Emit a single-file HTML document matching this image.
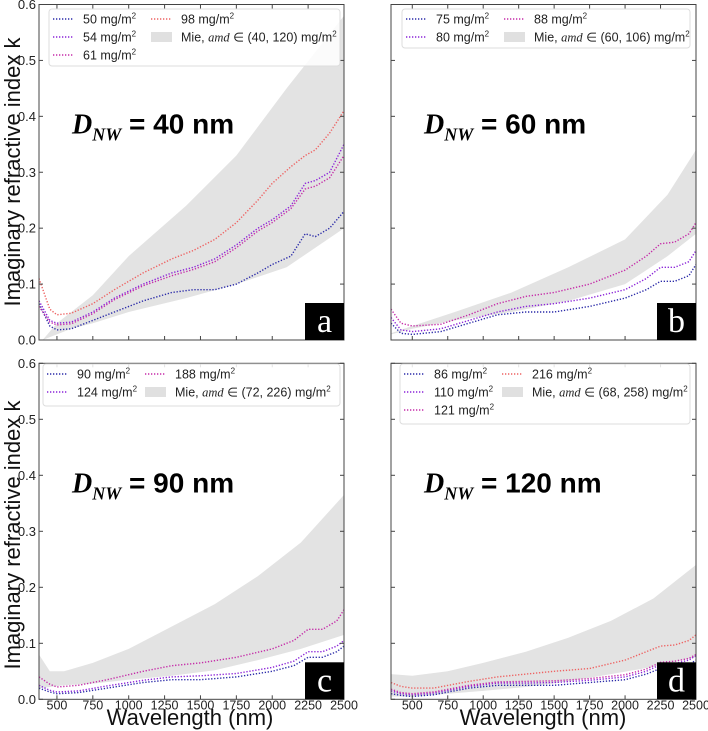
<!DOCTYPE html>
<html><head><meta charset="utf-8">
<style>
body{margin:0;background:#fff;}
svg{display:block;font-family:"Liberation Sans",sans-serif;}
</style></head>
<body>
<svg id="chart" width="708" height="731" viewBox="0 0 708 731" xmlns="http://www.w3.org/2000/svg"></svg>
<script>
// ---------- data ----------
const wlA = [375,450,500,600,750,900,1100,1300,1450,1600,1750,1900,2000,2130,2230,2300,2400,2500];
const a50 = [0.065,0.025,0.018,0.02,0.035,0.05,0.07,0.085,0.09,0.09,0.1,0.12,0.135,0.15,0.19,0.185,0.2,0.23];
const a54 = [0.07,0.035,0.03,0.032,0.05,0.075,0.1,0.12,0.13,0.145,0.17,0.2,0.215,0.24,0.28,0.285,0.3,0.35];
const a61 = [0.06,0.032,0.027,0.029,0.047,0.072,0.097,0.115,0.126,0.14,0.165,0.195,0.21,0.235,0.27,0.275,0.29,0.33];
const a98 = [0.11,0.055,0.045,0.048,0.065,0.09,0.12,0.145,0.16,0.18,0.21,0.25,0.28,0.31,0.33,0.34,0.37,0.41];
const bandAwl = [400,500,600,750,1000,1400,1750,2100,2500];
const bandAlo = [0.0,0.01,0.02,0.03,0.05,0.075,0.1,0.13,0.2];
const bandAhi = [0.0,0.03,0.05,0.08,0.15,0.24,0.33,0.45,0.58];

const wlB = [350,420,500,700,900,1100,1300,1500,1750,2000,2150,2250,2350,2450,2500];
const b75 = [0.03,0.012,0.01,0.015,0.03,0.045,0.05,0.05,0.06,0.075,0.09,0.105,0.105,0.115,0.135];
const b80 = [0.04,0.018,0.015,0.02,0.035,0.05,0.06,0.065,0.075,0.09,0.11,0.13,0.13,0.14,0.16];
const b88 = [0.055,0.03,0.025,0.028,0.045,0.065,0.078,0.085,0.1,0.125,0.15,0.172,0.175,0.19,0.21];
const bandBwl = [350,500,800,1200,1600,2000,2300,2500];
const bandBlo = [0.01,0.02,0.035,0.05,0.07,0.1,0.15,0.19];
const bandBhi = [0.012,0.025,0.05,0.085,0.13,0.18,0.26,0.34];

const wlC = [375,450,500,650,850,1100,1300,1500,1750,2000,2150,2250,2350,2450,2500];
const c90 = [0.02,0.013,0.01,0.012,0.02,0.03,0.035,0.035,0.04,0.05,0.06,0.075,0.075,0.085,0.095];
const c124 = [0.025,0.016,0.013,0.015,0.024,0.034,0.04,0.042,0.046,0.057,0.068,0.085,0.085,0.095,0.105];
const c188 = [0.04,0.027,0.022,0.025,0.035,0.05,0.06,0.065,0.075,0.09,0.105,0.125,0.125,0.14,0.16];
const bandCwl = [375,450,550,750,1000,1300,1600,1900,2200,2500];
const bandChi = [0.08,0.05,0.05,0.065,0.09,0.13,0.17,0.22,0.28,0.365];
const bandClo = [0.02,0.022,0.025,0.028,0.035,0.042,0.052,0.07,0.09,0.115];

const wlD = [350,420,500,650,900,1100,1300,1500,1750,2000,2150,2250,2350,2450,2500];
const d86 = [0.01,0.007,0.005,0.008,0.02,0.025,0.025,0.025,0.03,0.035,0.045,0.055,0.058,0.062,0.07];
const d110 = [0.015,0.01,0.008,0.011,0.023,0.029,0.029,0.03,0.034,0.04,0.05,0.062,0.064,0.07,0.078];
const d121 = [0.018,0.012,0.01,0.013,0.025,0.031,0.032,0.033,0.037,0.044,0.054,0.066,0.068,0.073,0.08];
const d216 = [0.03,0.023,0.02,0.02,0.032,0.04,0.045,0.05,0.055,0.07,0.085,0.095,0.097,0.105,0.115];
const bandDwl = [350,500,750,1000,1300,1600,1900,2200,2500];
const bandDhi = [0.045,0.042,0.05,0.065,0.085,0.11,0.14,0.18,0.24];
const bandDlo = [0.005,0.005,0.01,0.015,0.022,0.032,0.045,0.058,0.075];

const xTicks = [500,750,1000,1250,1500,1750,2000,2250,2500];
const yTicks = [0.0,0.1,0.2,0.3,0.4,0.5,0.6];

const C_BLUE="#2a2aa8", C_PURP="#8a22d8", C_MAG="#c52aa8", C_RED="#ee6262";

const panels = [
 {id:"a",x0:39,x1:344,y0:4.5,y1:340,xmin:375,yl:true,xl:false,dnw:"40",
  series:[{n:"50",w:wlA,v:a50,c:C_BLUE},{n:"54",w:wlA,v:a54,c:C_PURP},{n:"61",w:wlA,v:a61,c:C_MAG},{n:"98",w:wlA,v:a98,c:C_RED}],
  band:{w:bandAwl,lo:bandAlo,hi:bandAhi},range:"(40, 120)",leg:[49,9,291,57]},
 {id:"b",x0:391,x1:696,y0:4.5,y1:340,xmin:350,yl:false,xl:false,dnw:"60",
  series:[{n:"75",w:wlB,v:b75,c:C_BLUE},{n:"80",w:wlB,v:b80,c:C_PURP},{n:"88",w:wlB,v:b88,c:C_MAG}],
  band:{w:bandBwl,lo:bandBlo,hi:bandBhi},range:"(60, 106)",leg:[402,9,288,39]},
 {id:"c",x0:39,x1:344,y0:363.3,y1:699.3,xmin:375,yl:true,xl:true,dnw:"90",
  series:[{n:"90",w:wlC,v:c90,c:C_BLUE},{n:"124",w:wlC,v:c124,c:C_PURP},{n:"188",w:wlC,v:c188,c:C_MAG}],
  band:{w:bandCwl,lo:bandClo,hi:bandChi},range:"(72, 226)",leg:[43,364,297,42]},
 {id:"d",x0:391,x1:696,y0:363.3,y1:699.3,xmin:350,yl:false,xl:true,dnw:"120",
  series:[{n:"86",w:wlD,v:d86,c:C_BLUE},{n:"110",w:wlD,v:d110,c:C_PURP},{n:"121",w:wlD,v:d121,c:C_MAG},{n:"216",w:wlD,v:d216,c:C_RED}],
  band:{w:bandDwl,lo:bandDlo,hi:bandDhi},range:"(68, 258)",leg:[400,364,290,60]}
];

const NS="http://www.w3.org/2000/svg";
const svg=document.getElementById("chart");
function mk(tag,attrs,parent){const e=document.createElementNS(NS,tag);for(const k in attrs)e.setAttribute(k,attrs[k]);(parent||svg).appendChild(e);return e;}

panels.forEach(p=>{
  const g=mk("g",{});
  
  
  const xs=v=>p.x0+(v-p.xmin)/(2500-p.xmin)*(p.x1-p.x0);
  const ys=v=>p.y1-v/0.6*(p.y1-p.y0);
  const clipId="clip"+p.id;
  const cp=mk("clipPath",{id:clipId},g);mk("rect",{x:p.x0,y:p.y0,width:p.x1-p.x0,height:p.y1-p.y0},cp);
  let d="";
  p.band.w.forEach((w,i)=>{d+=(i?"L":"M")+xs(w).toFixed(1)+","+ys(p.band.hi[i]).toFixed(1);});
  for(let i=p.band.w.length-1;i>=0;i--)d+="L"+xs(p.band.w[i]).toFixed(1)+","+ys(p.band.lo[i]).toFixed(1);
  const band=mk("path",{d:d+"Z",fill:"#e3e3e3","clip-path":"url(#"+clipId+")"},g);
  
  
  p.series.forEach(s=>{
    const pts=s.w.map((w,i)=>xs(w).toFixed(1)+","+ys(s.v[i]).toFixed(1)).join(" ");
    const l=mk("polyline",{points:pts,fill:"none",stroke:s.c,"stroke-width":1.4,"stroke-dasharray":"1.3 1.7","clip-path":"url(#"+clipId+")"},g);
    
    
  });
  mk("rect",{x:p.x0,y:p.y0,width:p.x1-p.x0,height:p.y1-p.y0,fill:"none",stroke:"#444","stroke-width":1},g);
  xTicks.forEach(t=>{const x=xs(t);
    mk("line",{x1:x,x2:x,y1:p.y1,y2:p.y1-4,stroke:"#444"},g);
    mk("line",{x1:x,x2:x,y1:p.y0,y2:p.y0+4,stroke:"#444"},g);
    if(p.xl){const tl=mk("text",{x:x,y:p.y1+10,"font-size":12.5,"text-anchor":"middle",fill:"#222"},g);tl.textContent=t;
      
      }
  });
  yTicks.forEach(t=>{const y=ys(t);
    mk("line",{x1:p.x0,x2:p.x0+4,y1:y,y2:y,stroke:"#444"},g);
    mk("line",{x1:p.x1,x2:p.x1-4,y1:y,y2:y,stroke:"#444"},g);
    if(p.yl){const tl=mk("text",{x:p.x0-3,y:y+4.5,"font-size":13,"text-anchor":"end",fill:"#222"},g);tl.textContent=t.toFixed(1);
      
      }
  });
  const an=mk("text",{x:p.x0+33,y:p.y0+129,"font-size":28,"font-weight":"bold",fill:"#000","font-family":"Liberation Serif, serif"},g);
  an.innerHTML='<tspan font-style="italic">D</tspan><tspan font-style="italic" font-size="18" dy="7">NW</tspan><tspan dy="-7" font-family="Liberation Sans, sans-serif"> = '+p.dnw+' nm</tspan>';
  
  
  const lb=mk("rect",{x:p.x1-39,y:p.y1-37,width:39,height:37,fill:"#000"},g);
  
  
  const lt=mk("text",{x:p.x1-19.5,y:p.y1-8,"font-size":34,"text-anchor":"middle",fill:"#fff","font-family":"Liberation Serif, serif"},g);
  lt.textContent=p.id;
  
  
  const L=p.leg;
  const lg=mk("g",{},g);
  
  
  mk("rect",{x:L[0],y:L[1],width:L[2],height:L[3],rx:3,fill:"#fff","fill-opacity":0.85,stroke:"#ddd"},lg);
  const items=p.series.map(s=>({t:s.n+" mg/m",c:s.c}));
  items.push({t:"band"});
  const rows=Math.ceil(items.length/2);
  items.forEach((it,i)=>{
    const col=Math.floor(i/rows), row=i%rows;
    const lx=L[0]+4+col*98, ly=L[1]+10+row*18;
    const e=mk("g",{},lg);
    
    
    if(it.t==="band"){
      mk("rect",{x:lx,y:ly-5,width:21,height:10,fill:"#e0e0e0"},e);
      const tx=mk("text",{x:lx+30,y:ly+4.5,"font-size":12.5,fill:"#222"},e);
      tx.innerHTML='Mie, <tspan font-style="italic" font-family="Liberation Serif, serif">amd</tspan> ∈ '+p.range+' mg/m<tspan font-size="8" dy="-5">2</tspan>';
    } else {
      mk("line",{x1:lx,x2:lx+21,y1:ly,y2:ly,stroke:it.c,"stroke-width":1.4,"stroke-dasharray":"1.3 1.7"},e);
      const tx=mk("text",{x:lx+30,y:ly+4.5,"font-size":12.5,fill:"#222"},e);
      tx.innerHTML=it.t+'<tspan font-size="8" dy="-5">2</tspan>';
    }
  });
});
[[172,"y-axis-title-top"],[535,"y-axis-title-bottom"]].forEach(([cy,nm])=>{
  const t=mk("text",{x:0,y:0,"font-size":22,"text-anchor":"middle",fill:"#111",transform:"translate(20,"+cy+") rotate(-90)"});
  t.textContent="Imaginary refractive index k";
  
  
});
[[190,"x-axis-title-left"],[543,"x-axis-title-right"]].forEach(([cx,nm])=>{
  const t=mk("text",{x:cx,y:725,"font-size":22,"text-anchor":"middle",fill:"#111"});
  t.textContent="Wavelength (nm)";
  
  
});
</script>
</body></html>
